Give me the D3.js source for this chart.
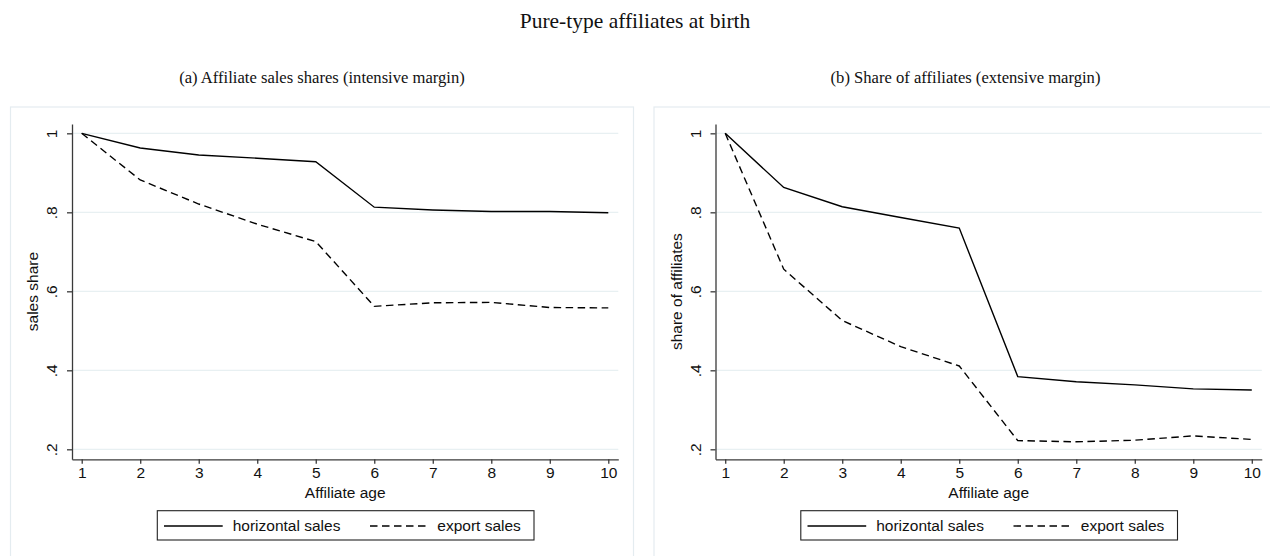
<!DOCTYPE html>
<html>
<head>
<meta charset="utf-8">
<script src="https://cdn.jsdelivr.net/npm/d3@7"></script>
<style>
  body { margin: 0; background: #fff; }
  svg text { font-family: "Liberation Sans", Arial, sans-serif; fill: #111; }
  .serif { font-family: "Liberation Serif", "Times New Roman", serif; }
</style>
</head>
<body>
<svg width="1270" height="556"></svg>
<script>
// data
const ages = [1, 2, 3, 4, 5, 6, 7, 8, 9, 10];
const salesHorizontal = [1, 0.963, 0.945, 0.937, 0.928, 0.813, 0.806, 0.802, 0.802, 0.799];
const salesExport = [1, 0.882, 0.821, 0.770, 0.726, 0.562, 0.571, 0.572, 0.559, 0.558];
const affHorizontal = [1, 0.863, 0.814, 0.787, 0.760, 0.384, 0.371, 0.363, 0.353, 0.350];
const affExport = [1, 0.656, 0.526, 0.460, 0.411, 0.222, 0.219, 0.223, 0.234, 0.225];
const yTicks = [0.2, 0.4, 0.6, 0.8, 1];
const yTickLabels = [".2", ".4", ".6", ".8", "1"];
const seriesNames = ["horizontal sales", "export sales"];

const svg = d3.select("svg");

svg.append("text")
  .attr("class", "serif")
  .attr("x", 635).attr("y", 28)
  .attr("text-anchor", "middle")
  .style("font-size", "21.5px")
  .text("Pure-type affiliates at birth");

function panel(dx, subtitle, yTitle, hor, exp) {
  let g = svg.append("g").attr("transform", "translate(" + dx + ",0)");

  // outer graph region box (Stata style)
  g.append("rect")
    .attr("x", 10.5).attr("y", 107)
    .attr("width", 623).attr("height", 470)
    .attr("fill", "none")
    .attr("stroke", "#e4ecf0").attr("stroke-width", 1.2);

  g.append("text")
    .attr("class", "serif")
    .attr("x", 322).attr("y", 83)
    .attr("text-anchor", "middle")
    .style("font-size", "16.6px")
    .text(subtitle);

  let x = d3.scaleLinear().domain([0.834, 10.171]).range([72, 618.3]);
  let y = d3.scaleLinear().domain([0.1747, 1.0236]).range([459.3, 124]);

  // grid lines
  g.append("g").selectAll("line")
    .data(yTicks)
    .enter().append("line")
    .attr("x1", 72).attr("x2", 618.3)
    .attr("y1", d => y(d)).attr("y2", d => y(d))
    .attr("stroke", "#e8f0f2").attr("stroke-width", 1.2);

  let xAxis = d3.axisBottom(x).tickValues(ages).tickSize(4.5).tickSizeOuter(0).tickPadding(3);
  let gx = g.append("g").attr("transform", "translate(0,459.3)").call(xAxis);
  gx.selectAll("text").style("font-size", "15.5px").attr("fill", "#111");

  let yAxis = d3.axisLeft(y).tickValues(yTicks).tickSize(5).tickSizeOuter(0)
                .tickFormat((d, i) => yTickLabels[i]);
  let gy = g.append("g").attr("transform", "translate(72,0)").call(yAxis);
  gy.selectAll("text")
    .style("font-size", "15.5px").attr("fill", "#111")
    .attr("text-anchor", "middle")
    .attr("transform", "translate(-20,0) rotate(-90)")
    .attr("x", 0).attr("dy", "0.35em");

  g.selectAll(".domain, .tick line").attr("stroke", "#3a3a3a").attr("stroke-width", 1.3);

  g.append("text")
    .attr("x", 345.2).attr("y", 498)
    .attr("text-anchor", "middle")
    .style("font-size", "15.5px")
    .text("Affiliate age");

  g.append("text")
    .attr("transform", "translate(38,291.6) rotate(-90)")
    .attr("text-anchor", "middle")
    .style("font-size", "15.5px")
    .text(yTitle);

  let line = d3.line().x((d, i) => x(ages[i])).y(d => y(d));
  g.append("path").datum(hor)
    .attr("d", line).attr("fill", "none")
    .attr("stroke", "#000").attr("stroke-width", 1.4);
  g.append("path").datum(exp)
    .attr("d", line).attr("fill", "none")
    .attr("stroke", "#000").attr("stroke-width", 1.4)
    .attr("stroke-dasharray", "7.5,4.5");

  // legend
  let lg = g.append("g").attr("transform", "translate(157.3,510.7)");
  lg.append("rect")
    .attr("width", 376.7).attr("height", 29.3)
    .attr("fill", "#fff").attr("stroke", "#222").attr("stroke-width", 1.1);
  let items = [
    { name: seriesNames[0], x0: 6.7, x1: 65.4, tx: 75.4, dash: null },
    { name: seriesNames[1], x0: 212.7, x1: 270, tx: 280, dash: "7.5,4.5" }
  ];
  items.forEach(function(it) {
    lg.append("line")
      .attr("x1", it.x0).attr("x2", it.x1)
      .attr("y1", 15.3).attr("y2", 15.3)
      .attr("stroke", "#000").attr("stroke-width", 1.4)
      .attr("stroke-dasharray", it.dash);
    lg.append("text")
      .attr("x", it.tx).attr("y", 15.3).attr("dy", "0.35em")
      .style("font-size", "15.5px")
      .text(it.name);
  });
}

panel(0, "(a) Affiliate sales shares (intensive margin)", "sales share", salesHorizontal, salesExport);
panel(643.5, "(b) Share of affiliates (extensive margin)", "share of affiliates", affHorizontal, affExport);
</script>
</body>
</html>
